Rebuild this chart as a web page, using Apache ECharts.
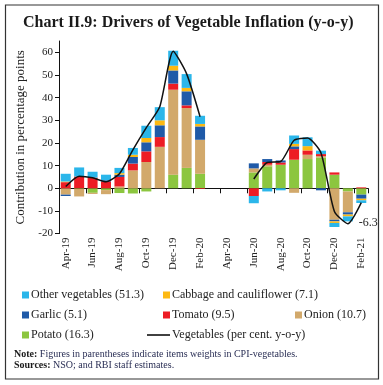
<!DOCTYPE html>
<html>
<head>
<meta charset="utf-8">
<script src="https://cdn.jsdelivr.net/npm/echarts@6/dist/echarts.min.js"></script>
<style>
html,body{margin:0;padding:0;background:#fff;}
#chart{width:383px;height:385px;}
</style>
</head>
<body>
<div id="chart"></div>
<script>
// ---- data ----
const months = ['Apr-19','May-19','Jun-19','Jul-19','Aug-19','Sep-19','Oct-19','Nov-19','Dec-19','Jan-20','Feb-20','Mar-20','Apr-20','May-20','Jun-20','Jul-20','Aug-20','Sep-20','Oct-20','Nov-20','Dec-20','Jan-21','Feb-21'];
const potato  = [0, -0.3, -2.0, -0.8, -2.1, -2.3, -1.4, 0, 6.0, 9.0, 6.4, null, null, null, 7.0, 9.7, 10.4, 12.6, 12.9, 13.6, 6.0, -1.4, -2.8];
const onion   = [-2.8, -3.3, -0.5, -1.8, 0.8, 7.9, 11.6, 18.3, 37.5, 26.4, 15.0, null, null, null, 1.8, 0.7, 0, -2.0, 1.9, 0.6, -13.9, -9.2, 0];
const tomato  = [2.7, 5.2, 4.7, 3.0, 4.2, 3.0, 4.7, 4.3, 2.7, 1.2, -0.3, null, null, null, -3.4, 1.2, 1.0, 4.7, 1.9, 0.9, 1.0, 0, 0.4];
const garlic  = [-0.6, 0, 0, 0.5, 1.0, 2.9, 4.0, 5.2, 5.8, 6.2, 5.9, null, null, null, 2.2, 1.3, 0.9, 1.2, 0, -0.9, -0.7, -1.0, -1.8];
const cabbage = [0.3, 0, 0, 0, 0.7, 1.0, 1.9, 2.2, 2.1, 1.5, 1.1, null, null, null, 0, 0, 0, 1.1, 1.9, 0, -0.7, -0.8, -0.7];
const otherVeg= [3.4, 4.0, 2.6, 2.5, 2.3, 3.0, 5.4, 5.8, 6.6, 6.1, 3.6, null, null, null, -3.2, -1.4, -0.9, 3.7, 3.9, 1.5, -1.8, -2.2, -1.2];
const vegInflation = [0.8, 5.3, 4.6, 2.9, 6.4, 17.0, 26.8, 36.0, 60.5, 50.5, 31.6, null, null, null, 4.1, 11.4, 11.8, 21.2, 22.2, 15.6, -10.2, -15.6, -6.3];
const yTicks = [-20, -10, 0, 10, 20, 30, 40, 50, 60];
const names = {
  other: 'Other vegetables (51.3)',
  cabbage: 'Cabbage and cauliflower (7.1)',
  garlic: 'Garlic (5.1)',
  tomato: 'Tomato (9.5)',
  onion: 'Onion (10.7)',
  potato: 'Potato (16.3)',
  veg: 'Vegetables (per cent. y-o-y)'
};

// ---- style / layout ----
const SERIF = "'Liberation Serif', 'DejaVu Serif', serif";
const colors = {
  potato: '#8cc63f', onion: '#d2a96b', tomato: '#ed1c24',
  garlic: '#1f5aa8', cabbage: '#fdb913', other: '#2bb6ea'
};
const legendLayout = [
  [names.other, 22, 289], [names.cabbage, 163, 289],
  [names.garlic, 22, 309], [names.tomato, 163, 309], [names.onion, 295, 309],
  [names.potato, 22, 329], [names.veg, 147, 329]
];

const barSeries = [
  ['potato', potato], ['onion', onion], ['tomato', tomato],
  ['garlic', garlic], ['cabbage', cabbage], ['other', otherVeg]
].map(([k, arr]) => ({
  name: names[k], type: 'bar', stack: 'veg', data: arr,
  barWidth: 10, itemStyle: {color: colors[k]},
  xAxisIndex: 0, yAxisIndex: 0
}));

const lineData = vegInflation.map((v, i) => i === vegInflation.length - 1
  ? {value: v, label: {show: true, position: 'bottom', offset: [7, 9], formatter: '{c}', fontFamily: SERIF, fontSize: 12, color: '#222'}}
  : v);

const chart = echarts.init(document.getElementById('chart'), null, {renderer: 'canvas'});
chart.setOption({
  animation: false,
  textStyle: {fontFamily: SERIF},
  title: [
    {text: 'Chart II.9: Drivers of Vegetable Inflation (y-o-y)', left: 23, top: 15, padding: 0,
     textStyle: {fontFamily: SERIF, fontSize: 16, fontWeight: 'bold', color: '#1a1a1a'}},
    {text: '{b|Note:} Figures in parentheses indicate items weights in CPI-vegetables.\n{b|Sources:} NSO; and RBI staff estimates.',
     left: 14, top: 349, padding: 0,
     textStyle: {fontFamily: SERIF, fontSize: 10, fontWeight: 'normal', color: '#2a2f55', lineHeight: 11,
       rich: {b: {fontFamily: SERIF, fontSize: 10, fontWeight: 'bold', color: '#1a1a1a', lineHeight: 11}}}}
  ],
  graphic: [{type: 'rect', shape: {x: 5.5, y: 5, width: 373, height: 374}, style: {fill: 'none', stroke: '#333', lineWidth: 1.2}, silent: true}],
  legend: legendLayout.map(([n, x, y]) => ({
    data: [n], left: x, top: y, padding: 0, selectedMode: false,
    itemWidth: n === names.veg ? 23 : 7, itemHeight: n === names.veg ? 1.6 : 7,
    icon: 'rect',
    textStyle: {fontFamily: SERIF, fontSize: 12, color: '#222', padding: [0, 0, 0, -3]}
  })),
  grid: {left: 59, top: 41, right: 15, bottom: 151.4},
  xAxis: [
    {type: 'category', data: months, position: 'bottom',
     axisLine: {show: false, onZero: false}, axisTick: {show: false},
     axisLabel: {interval: 1, rotate: 90, margin: 4, fontSize: 11, color: '#222', fontFamily: SERIF}},
    {type: 'category', data: months, position: 'bottom',
     axisLine: {show: true, onZero: true, lineStyle: {color: '#111', width: 1}},
     axisTick: {show: true, interval: 1, length: 5, lineStyle: {color: '#111'}},
     axisLabel: {show: false}}
  ],
  yAxis: {type: 'value', min: -20, max: 65, interval: 10,
    axisLine: {show: true, lineStyle: {color: '#111'}},
    axisTick: {show: true, length: 4, customValues: yTicks, lineStyle: {color: '#111'}},
    axisLabel: {customValues: yTicks, fontSize: 11, margin: 6, color: '#222', fontFamily: SERIF},
    splitLine: {show: false},
    name: 'Contribution in percentage points', nameLocation: 'middle', nameGap: 31,
    nameTextStyle: {fontSize: 13, color: '#222', fontFamily: SERIF}},
  series: barSeries.concat([{
    name: names.veg, type: 'line', data: lineData, symbol: 'circle', symbolSize: 0.01,
    smooth: 0.2, connectNulls: false, clip: false,
    lineStyle: {color: '#111', width: 1.5}, itemStyle: {color: '#111'},
    xAxisIndex: 0, yAxisIndex: 0, z: 5
  }])
});
</script>
</body>
</html>
